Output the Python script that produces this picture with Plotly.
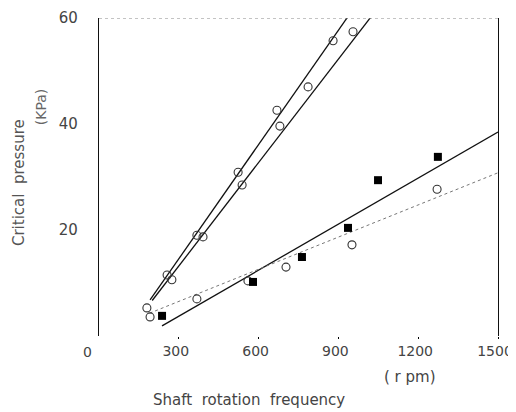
import plotly.graph_objects as go

# Open circles, upper steep series (left line)
s1_x = [180, 256, 368, 523, 669, 880]
s1_y = [5.3, 11.5, 19.0, 30.9, 42.6, 55.7]
# Open circles, upper steep series (right line)
s2_x = [192, 274, 391, 538, 680, 786, 955]
s2_y = [3.6, 10.6, 18.7, 28.5, 39.6, 47.0, 57.4]
# Filled squares
s3_x = [237, 579, 763, 936, 1049, 1274]
s3_y = [3.8, 10.2, 14.9, 20.4, 29.4, 33.8]
# Open circles, lower series
s4_x = [368, 560, 703, 951, 1271]
s4_y = [7.0, 10.4, 13.0, 17.2, 27.7]

# fitted lines (endpoints)
fit1_x = [192, 960]
fit1_y = [6.8, 62.0]
fit2_x = [200, 1050]
fit2_y = [6.7, 62.0]
fit3_x = [237, 1500]
fit3_y = [1.9, 38.5]
fit4_x = [190, 1500]
fit4_y = [4.3, 30.8]

x_ticks = [300, 600, 900, 1200, 1500]
y_ticks = [20, 40, 60]

fig = go.Figure()

fig.add_trace(go.Scatter(x=fit1_x, y=fit1_y, mode="lines", line=dict(color="#111", width=1.3)))
fig.add_trace(go.Scatter(x=fit2_x, y=fit2_y, mode="lines", line=dict(color="#111", width=1.3)))
fig.add_trace(go.Scatter(x=fit3_x, y=fit3_y, mode="lines", line=dict(color="#111", width=1.3)))
fig.add_trace(go.Scatter(x=fit4_x, y=fit4_y, mode="lines", line=dict(color="#777", width=1, dash="dot")))

circle = dict(symbol="circle-open", size=8, color="#333", line=dict(width=1.1))
fig.add_trace(go.Scatter(x=s1_x, y=s1_y, mode="markers", marker=circle))
fig.add_trace(go.Scatter(x=s2_x, y=s2_y, mode="markers", marker=circle))
fig.add_trace(go.Scatter(x=s4_x, y=s4_y, mode="markers", marker=circle))
fig.add_trace(go.Scatter(x=s3_x, y=s3_y, mode="markers",
                         marker=dict(symbol="square", size=8, color="#000")))

font = dict(family="DejaVu Sans", size=14, color="#444")

fig.update_layout(
    width=508, height=404,
    margin=dict(l=91, r=18, t=10, b=76),
    paper_bgcolor="white", plot_bgcolor="white",
    showlegend=False,
    font=font,
    xaxis=dict(range=[0, 1500], tickvals=x_ticks, ticktext=[str(v) for v in x_ticks],
               showgrid=False, zeroline=False, showline=False, automargin=False,
               ticks="outside", ticklen=2, tickcolor="#000", ticklabelshift=-3,
               tickfont=dict(size=14, color="#444")),
    yaxis=dict(range=[0, 60], tickvals=y_ticks, ticktext=[str(v) for v in y_ticks],
               showgrid=False, zeroline=False, showline=True, linecolor="#111", linewidth=1.2,
               mirror=True, ticks="", ticklabelstandoff=17, automargin=False,
               tickfont=dict(size=15, color="#444")),
)

# top border (faint, broken)
fig.add_shape(type="line", xref="x", yref="y", x0=0, x1=1500, y0=60, y1=60,
              line=dict(color="#888", width=1, dash="dot"))

def note(x, y, text, yshift=0, angle=0, size=15, color="#444"):
    fig.add_annotation(x=x, y=y, xref="paper", yref="paper", text=text, showarrow=False,
                       xanchor="center", yanchor="middle", yshift=yshift, textangle=angle,
                       font=dict(size=size, color=color))

note(-0.0276, 0, "0", yshift=-16, size=14)
note(0.78, 0, "( r pm)", yshift=-41)
note(0.376, 0, "Shaft  rotation  frequency", yshift=-64)
note(-0.2005, 0.481, "Critical  pressure", angle=-90, color="#555")
note(-0.145, 0.72, "(KPa)", angle=-90, size=14, color="#666")

fig.write_html("out.html")
